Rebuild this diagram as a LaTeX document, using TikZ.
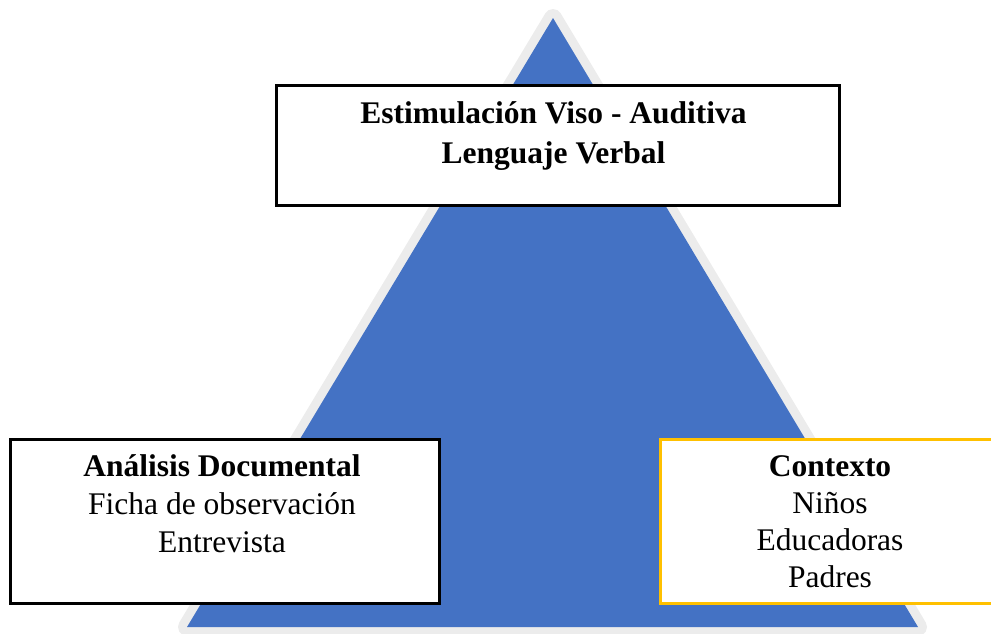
\documentclass[tikz,border=0pt]{standalone}
\usepackage{fontspec}
\setmainfont{Liberation Serif}
\definecolor{triblue}{HTML}{4472C4}
\definecolor{trigray}{HTML}{ECECEC}
\definecolor{boxgold}{HTML}{FFC000}
\begin{document}
\begin{tikzpicture}[x=1pt,y=-1pt,
  box/.style={draw, fill=white, line width=2.5pt, rectangle, anchor=north west, inner sep=0pt},
  txt/.style={align=center, inner sep=0pt, font=\fontsize{31.5}{38}\selectfont}]
\useasboundingbox (0,0) rectangle (991,633);
\coordinate (apex) at (553,18);
\coordinate (bl) at (187,627);
\coordinate (br) at (918,627);
\draw[trigray, line width=18pt, line join=round] (apex) -- (bl) -- (br) -- cycle;
\fill[triblue] (apex) -- (bl) -- (br) -- cycle;
% boxes
\node[box, draw=black, minimum width=563pt, minimum height=120pt] (topbox) at (275,84) {};
\node[box, draw=black, minimum width=429pt, minimum height=164pt] (leftbox) at (9,438) {};
\node[box, draw=boxgold, minimum width=345pt, minimum height=164pt] (rightbox) at (659,438) {};
% texts (base anchor = baseline of last line)
\node[txt, anchor=base] (toptext) at (553.5,163) {\textbf{Estimulación Viso - Auditiva}\\[2pt]\textbf{Lenguaje Verbal}};
\node[txt, anchor=base] (lefttext) at (222,552) {\textbf{Análisis Documental}\\Ficha de observación\\Entrevista};
\node[txt, anchor=base, font=\fontsize{31.5}{36.7}\selectfont] (righttext) at (830,587) {\textbf{Contexto}\\Niños\\Educadoras\\Padres};
\end{tikzpicture}
\end{document}
